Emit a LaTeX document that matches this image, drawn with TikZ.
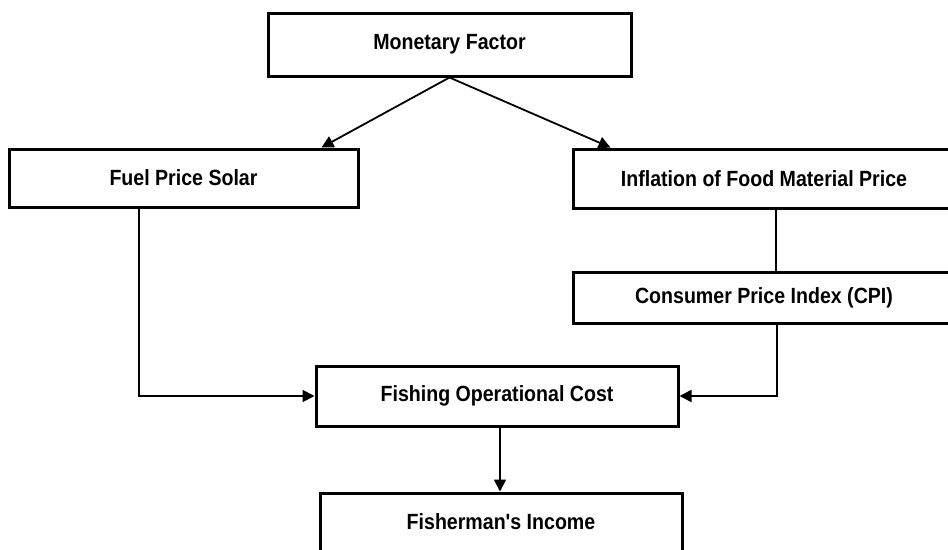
\documentclass[tikz,border=0pt]{standalone}
\usepackage{fontspec}
\setmainfont[FakeStretch=0.89, Ligatures=TeXOff]{Liberation Sans}
\usetikzlibrary{arrows.meta}
\begin{document}
\begin{tikzpicture}[x=1pt,y=-1pt,
  box/.style={draw=black, line width=3pt, fill=white, inner sep=0pt,
    font=\fontsize{22}{26}\selectfont\bfseries},
  link/.style={line width=1.8pt, draw=black},
  arr/.style={link, -{Triangle[length=12pt,width=12pt]}}]
\clip (0,0) rectangle (948,549);
\node[box, minimum width=363pt, minimum height=63pt] (mon) at (449.5,44.5) {Monetary Factor};
\node[box, minimum width=349pt, minimum height=58pt] (fuel) at (183.5,178) {Fuel Price Solar};
\node[box, minimum width=382pt, minimum height=59pt] (infl) at (764,178.5) {Inflation of Food Material Price};
\node[box, minimum width=382pt, minimum height=51pt] (cpi) at (764,297.5) {Consumer Price Index (CPI)};
\node[box, minimum width=362pt, minimum height=60pt] (fish) at (497,396) {Fishing Operational Cost};
\node[box, minimum width=362pt, minimum height=58pt] (inc) at (501,522) {Fisherman's Income};
\draw[arr] (mon.south) -- ([xshift=-38pt]fuel.north east);
\draw[arr] (mon.south) -- ([xshift=39pt]infl.north west);
\draw[link] ([xshift=12pt]infl.south) -- ([xshift=12pt]cpi.north);
\draw[arr] ([xshift=-44.5pt]fuel.south) |- (fish.west);
\draw[arr] ([xshift=13pt]cpi.south) |- (fish.east);
\draw[arr] ([xshift=3pt]fish.south) -- ([xshift=-1pt]inc.north);
\end{tikzpicture}
\end{document}
